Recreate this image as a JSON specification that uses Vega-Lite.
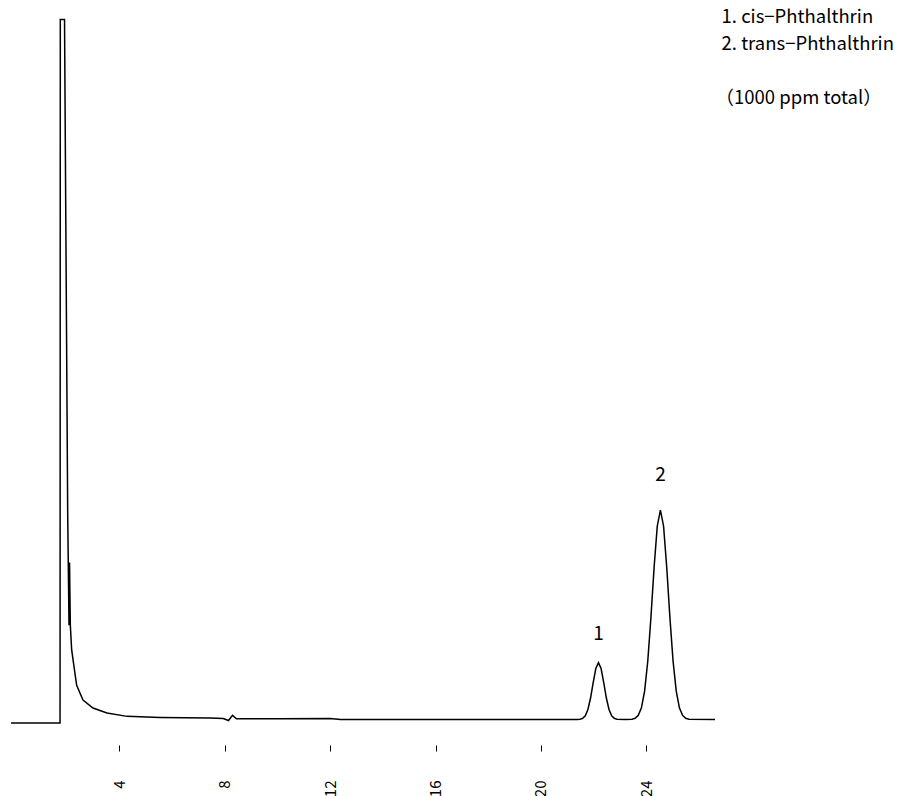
{
  "$schema": "https://vega.github.io/schema/vega-lite/v6.json",
  "autosize": "none",
  "width": 704,
  "height": 705,
  "padding": {"left": 11, "top": 18, "right": 202, "bottom": 73},
  "config": {"view": {"stroke": null}, "font": "Noto Sans CJK JP"},
  "datasets": {
    "trace": [
      {"t": -0.1, "v": 0}, {"t": 1.76, "v": 0}, {"t": 1.77, "v": 100.8}, {"t": 1.93, "v": 100.8},
      {"t": 2.05, "v": 30}, {"t": 2.1, "v": 14}, {"t": 2.12, "v": 23}, {"t": 2.15, "v": 14},
      {"t": 2.2, "v": 10.5}, {"t": 2.27, "v": 8.6}, {"t": 2.39, "v": 5.4}, {"t": 2.63, "v": 3.3},
      {"t": 3.01, "v": 2.15}, {"t": 3.54, "v": 1.43}, {"t": 4.3, "v": 0.95}, {"t": 5.56, "v": 0.8},
      {"t": 7.45, "v": 0.7}, {"t": 7.95, "v": 0.65}, {"t": 8.15, "v": 0.35},
      {"t": 8.3, "v": 1.1}, {"t": 8.45, "v": 0.6}, {"t": 10, "v": 0.6}, {"t": 12, "v": 0.65},
      {"t": 12.4, "v": 0.5}, {"t": 16, "v": 0.5}, {"t": 20, "v": 0.5}, {"t": 21.38, "v": 0.5},
      {"t": 21.48, "v": 0.54}, {"t": 21.58, "v": 0.67}, {"t": 21.68, "v": 1.04}, {"t": 21.78, "v": 1.94},
      {"t": 21.88, "v": 3.58}, {"t": 21.98, "v": 5.78}, {"t": 22.08, "v": 7.8}, {"t": 22.18, "v": 8.64},
      {"t": 22.28, "v": 7.8}, {"t": 22.38, "v": 5.78}, {"t": 22.48, "v": 3.58}, {"t": 22.58, "v": 1.94},
      {"t": 22.68, "v": 1.04}, {"t": 22.78, "v": 0.67}, {"t": 22.88, "v": 0.54}, {"t": 23.2, "v": 0.5},
      {"t": 23.45, "v": 0.55}, {"t": 23.57, "v": 0.68}, {"t": 23.69, "v": 1.09}, {"t": 23.81, "v": 2.18},
      {"t": 23.93, "v": 4.56}, {"t": 24.05, "v": 8.84}, {"t": 24.17, "v": 15.11}, {"t": 24.29, "v": 22.28},
      {"t": 24.41, "v": 28.19}, {"t": 24.53, "v": 30.5}, {"t": 24.65, "v": 28.19}, {"t": 24.77, "v": 22.28},
      {"t": 24.89, "v": 15.11}, {"t": 25.01, "v": 8.84}, {"t": 25.13, "v": 4.56}, {"t": 25.25, "v": 2.18},
      {"t": 25.37, "v": 1.09}, {"t": 25.49, "v": 0.68}, {"t": 25.61, "v": 0.55}, {"t": 26.6, "v": 0.5}
    ],
    "peaks": [
      {"t": 22.18, "v": 12.8, "label": "1"},
      {"t": 24.53, "v": 35.5, "label": "2"}
    ],
    "notes": [
      {"t": 26.85, "v": 101.1, "label": "1. cis−Phthalthrin"},
      {"t": 26.85, "v": 97.3, "label": "2. trans−Phthalthrin"},
      {"t": 26.62, "v": 89.5, "label": "（1000 ppm total）"}
    ]
  },
  "layer": [
    {
      "data": {"name": "trace"},
      "mark": {"type": "line", "color": "black", "strokeWidth": 1.5},
      "encoding": {
        "x": {
          "field": "t", "type": "quantitative",
          "scale": {"domain": [-0.1, 26.6], "nice": false, "zero": false},
          "axis": {
            "values": [4, 8, 12, 16, 20, 24], "title": null, "domain": false, "grid": false,
            "ticks": true, "tickColor": "black", "tickSize": 6, "tickWidth": 1, "offset": 22,
            "labelAngle": 270, "labelPadding": 29, "labelFontSize": 15, "labelColor": "black"
          }
        },
        "y": {
          "field": "v", "type": "quantitative",
          "scale": {"domain": [0, 101], "nice": false},
          "axis": null
        },
        "order": {"field": "t"}
      }
    },
    {
      "data": {"name": "peaks"},
      "mark": {"type": "text", "fontSize": 19, "color": "black", "align": "center", "baseline": "middle"},
      "encoding": {
        "x": {"field": "t", "type": "quantitative"},
        "y": {"field": "v", "type": "quantitative"},
        "text": {"field": "label"}
      }
    },
    {
      "data": {"name": "notes"},
      "mark": {"type": "text", "fontSize": 18.5, "color": "black", "align": "left", "baseline": "middle"},
      "encoding": {
        "x": {"field": "t", "type": "quantitative"},
        "y": {"field": "v", "type": "quantitative"},
        "text": {"field": "label"}
      }
    }
  ]
}
